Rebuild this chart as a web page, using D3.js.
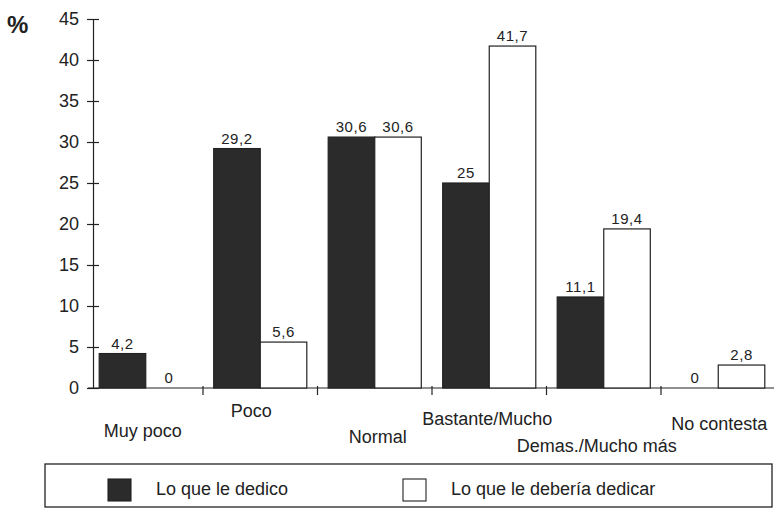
<!DOCTYPE html>
<html>
<head>
<meta charset="utf-8">
<script src="https://cdn.jsdelivr.net/npm/d3@7"></script>
<style>
  body { margin: 0; background: #fff; }
  svg { font-family: "Liberation Sans", Arial, sans-serif; }
  .axis path, .axis line { stroke: #222; stroke-width: 1.2; }
  .axis text { font-size: 18px; fill: #222; }
</style>
</head>
<body>
<svg id="chart" width="774" height="517"></svg>
<script>
// data
const categories = ["Muy poco", "Poco", "Normal", "Bastante/Mucho", "Demas./Mucho más", "No contesta"];
const seriesNames = ["Lo que le dedico", "Lo que le debería dedicar"];
const dedico = [4.2, 29.2, 30.6, 25, 11.1, 0];
const deberia = [0, 5.6, 30.6, 41.7, 19.4, 2.8];
const yTicks = [0, 5, 10, 15, 20, 25, 30, 35, 40, 45];

// staggered category label offsets (dx, dy from axis)
const labelOffsets = [[-3, 49], [-9, 29], [3, 55], [-2, 37], [-7, 64], [1, 42]];

const svg = d3.select("#chart");
const colors = { [seriesNames[0]]: "#2b2b2b", [seriesNames[1]]: "#ffffff" };

const x0 = d3.scaleBand().domain(categories).range([88.5, 775.5]).paddingInner(0);
const x1 = d3.scaleBand().domain(seriesNames).range([0, x0.bandwidth()]).paddingOuter(0.23).paddingInner(0);
const y = d3.scaleLinear().domain([0, 45]).range([388, 19]);

const rows = categories.map((c, i) => ({
  cat: c,
  values: [{ s: seriesNames[0], v: dedico[i] }, { s: seriesNames[1], v: deberia[i] }]
}));

// y axis
const yAxis = svg.append("g")
  .attr("class", "axis")
  .attr("transform", "translate(93,0)")
  .call(d3.axisLeft(y).tickValues(yTicks).tickSize(6).tickPadding(8).tickSizeOuter(0));
yAxis.selectAll(".tick line").attr("x1", 6);

// x axis
const xAxis = svg.append("g")
  .attr("class", "axis")
  .attr("transform", `translate(0,${y(0)})`);
xAxis.append("line").attr("x1", 88).attr("x2", 775).attr("stroke", "#222").attr("stroke-width", 1.2);
xAxis.selectAll(".sep")
  .data(categories.slice(1))
  .join("line")
  .attr("class", "sep")
  .attr("x1", d => x0(d)).attr("x2", d => x0(d))
  .attr("y1", -2).attr("y2", 7)
  .attr("stroke", "#222").attr("stroke-width", 1.2);

// "%" label
svg.append("text")
  .attr("x", 7).attr("y", 33)
  .attr("font-size", 24).attr("font-weight", "bold").attr("fill", "#222")
  .text("%");

// bars
const groups = svg.selectAll(".grp")
  .data(rows)
  .join("g")
  .attr("class", "grp")
  .attr("transform", d => `translate(${x0(d.cat)},0)`);

groups.selectAll("rect")
  .data(d => d.values)
  .join("rect")
  .attr("x", d => x1(d.s))
  .attr("width", x1.bandwidth())
  .attr("y", d => y(d.v))
  .attr("height", d => y(0) - y(d.v))
  .attr("fill", d => colors[d.s])
  .attr("stroke", "#222")
  .attr("stroke-width", d => d.v > 0 ? 1.2 : 0);

groups.selectAll(".val")
  .data(d => d.values)
  .join("text")
  .attr("class", "val")
  .attr("x", d => x1(d.s) + x1.bandwidth() / 2)
  .attr("y", d => y(d.v) - 5)
  .attr("text-anchor", "middle")
  .attr("font-size", 15)
  .attr("letter-spacing", 0.6)
  .attr("fill", "#222")
  .text(d => String(d.v).replace(".", ","));

// category labels
svg.selectAll(".cat")
  .data(categories)
  .join("text")
  .attr("class", "cat")
  .attr("x", (d, i) => x0(d) + x0.bandwidth() / 2 + labelOffsets[i][0])
  .attr("y", (d, i) => y(0) + labelOffsets[i][1])
  .attr("text-anchor", "middle")
  .attr("font-size", 18)
  .attr("fill", "#222")
  .text(d => d);

// legend
const legend = svg.append("g");
legend.append("rect")
  .attr("x", 45).attr("y", 464).attr("width", 727).attr("height", 43)
  .attr("fill", "none").attr("stroke", "#222").attr("stroke-width", 1.3);

const legendX = [108, 403];
const items = legend.selectAll(".item")
  .data(seriesNames)
  .join("g")
  .attr("class", "item")
  .attr("transform", (d, i) => `translate(${legendX[i]},479)`);
items.append("rect")
  .attr("width", 23).attr("height", 22)
  .attr("fill", d => colors[d])
  .attr("stroke", "#222").attr("stroke-width", 1.1);
items.append("text")
  .attr("x", 48).attr("y", 16)
  .attr("font-size", 18)
  .attr("fill", "#222")
  .text(d => d);
</script>
</body>
</html>
